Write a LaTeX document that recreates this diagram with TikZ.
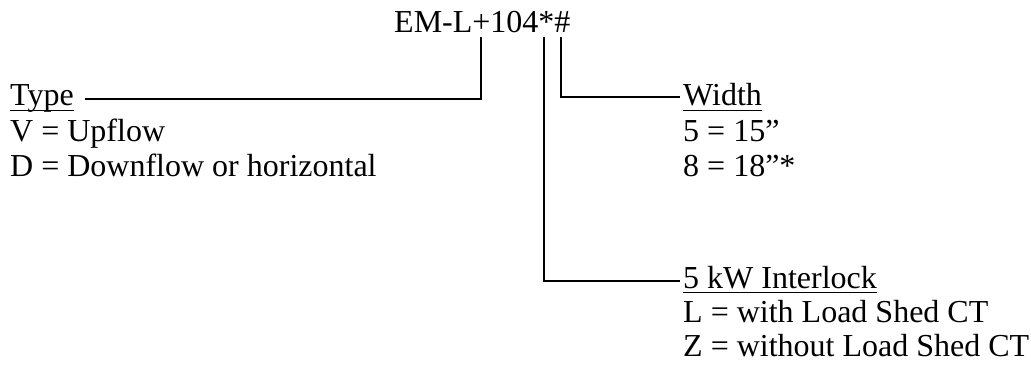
\documentclass[tikz,border=0pt]{standalone}
\usepackage{fontspec}
\setmainfont{Liberation Serif}
\newcommand\myul[1]{\setbox0\hbox{#1}\rlap{\vrule height -3.8pt depth 5.1pt width \wd0}\box0}
\begin{document}
\begin{tikzpicture}[x=1pt,y=-1pt,
  txt/.style={inner sep=0pt, anchor=base west, font=\fontsize{32}{37}\selectfont},
  conn/.style={line width=1.6pt}]
\useasboundingbox (0,0) rectangle (1031,369);
\node[txt] (code) at (394,33) {EM-L+104*\#};
\node[txt] (type) at (10,106) {\myul{Type}};
\node[txt] (tv) at (10,141) {V = Upflow};
\node[txt] (td) at (10,176) {D = Downflow or horizontal};
\node[txt] (width) at (683,106) {\myul{Width}};
\node[txt] (w5) at (683,141) {5 = 15”};
\node[txt] (w8) at (683,176) {8 = 18”*};
\node[txt] (lock) at (683,288) {\myul{5 kW Interlock}};
\node[txt] (ll) at (683,322) {L = with Load Shed CT};
\node[txt] (lz) at (683,356) {Z = without Load Shed CT};
\coordinate (plus) at (481,37);
\coordinate (star) at (544,37);
\coordinate (hash) at (561,37);
\coordinate (typeend) at (85,99);
\coordinate (widthend) at (680,97);
\coordinate (lockend) at (680,281);
\draw[conn] (plus) |- (typeend);
\draw[conn] (hash) |- (widthend);
\draw[conn] (star) |- (lockend);
\end{tikzpicture}
\end{document}
